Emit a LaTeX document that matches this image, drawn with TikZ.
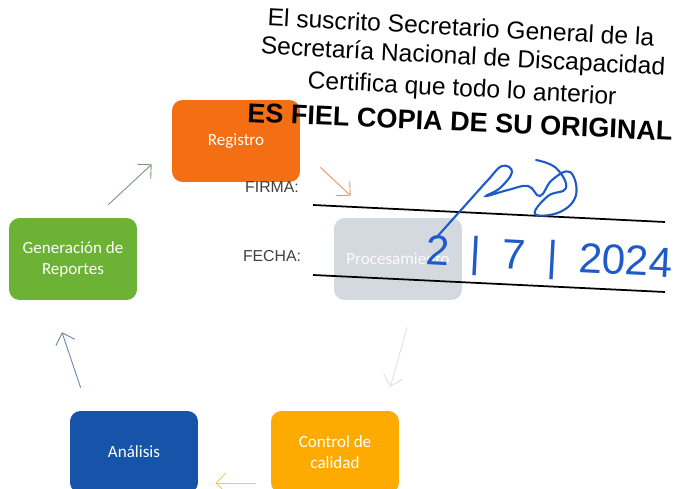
\documentclass[tikz,border=0pt]{standalone}
\usepackage{fontspec}
\setmainfont{Liberation Sans}
\newfontfamily\boxfont{Carlito}
\usepackage{tikz}
\usetikzlibrary{positioning,arrows.meta}
\definecolor{regorange}{RGB}{244,110,20}
\definecolor{procgray}{RGB}{212,217,224}
\definecolor{gengreen}{RGB}{108,178,52}
\definecolor{anablue}{RGB}{22,84,170}
\definecolor{ctrlyellow}{RGB}{255,170,0}
\definecolor{inkblue}{RGB}{30,90,200}
\tikzset{
  cyc/.style={-{Straight Barb[length=2mm]}, line width=0.5pt},
  phase/.style={draw=none, rounded corners=6pt, minimum width=2.56cm, minimum height=1.64cm, align=center, text=white, font=\boxfont\fontsize{9.7}{12}\selectfont},
  stamp/.style={font=\fontsize{14}{16}\selectfont, rotate=-3, inner sep=0pt},
  stampbig/.style={font=\fontsize{15.4}{18}\selectfont\bfseries, rotate=-2.5, inner sep=0pt},
  formlabel/.style={font=\fontsize{9}{11}\selectfont, text=black!75, inner sep=0pt}
}

\begin{document}
\begin{tikzpicture}[x=0.02cm, y=-0.02cm]
  \useasboundingbox (0,0) rectangle (679,489);
  % cycle boxes
  \node[phase, fill=regorange] (reg) at (236,141) {Registro};
  \node[phase, fill=procgray, text=white!90!procgray] (proc) at (398,259) {Procesamiento};
  \node[phase, fill=ctrlyellow] (ctrl) at (335,452) {Control de\\calidad};
  \node[phase, fill=anablue] (ana) at (134,452) {Análisis};
  \node[phase, fill=gengreen] (gen) at (73,259) {Generación de\\Reportes};
  % arrows of the cycle
  \draw[cyc, draw={rgb,255:red,240;green,145;blue,95}] ([shift={(20,-15)}]reg.south east) -- ([shift={(17,-22)}]proc.north west);
  \draw[cyc, draw=black!12] ([shift={(9,27)}]proc.south) -- ([shift={(-9,-24)}]ctrl.north east);
  \draw[cyc, draw={rgb,255:red,250;green,200;blue,80}] ([shift={(-15,31)}]ctrl.west) -- ([shift={(17,31)}]ana.east);
  \draw[cyc, draw={rgb,255:red,105;green,130;blue,170}] ([shift={(11,-23)}]ana.north west) -- ([shift={(-11,32)}]gen.south);
  \draw[cyc, draw={rgb,255:red,120;green,150;blue,120}] ([shift={(-29,-13)}]gen.north east) -- ([shift={(-20,-18)}]reg.south west);
  % certification stamp
  \node[stamp] (st1) at (461,27) {El suscrito Secretario General de la};
  \node[stamp] (st2) at (463,58) {Secretaría Nacional de Discapacidad};
  \node[stamp] (st3) at (462,90) {Certifica que todo lo anterior};
  \node[stampbig] (st4) at (460,122) {ES FIEL COPIA DE SU ORIGINAL};
  \node[formlabel] (firma) at (272,187) {FIRMA:};
  \node[formlabel] (fecha) at (272,256) {FECHA:};
  \draw[line width=1pt] (313,205) -- (665,222);
  \draw[line width=1pt] (313,275) -- (665,292);
  % signature and date
  \draw[inkblue, line width=1.2pt, line cap=round] plot[smooth, tension=0.7] coordinates {(436,238) (470,200) (488,180) (502,166) (512,172) (500,188) (486,196) (508,190) (528,186) (540,196) (552,180) (570,172) (576,195) (560,212) (535,214) (548,196) (566,188) (556,168) (536,160)};
  \node[inkblue, font=\fontsize{24}{26}\selectfont, rotate=-3, inner sep=0pt] (datum) at (549,260) {2\enspace|\enspace7\enspace|\enspace2024};
\end{tikzpicture}
\end{document}
